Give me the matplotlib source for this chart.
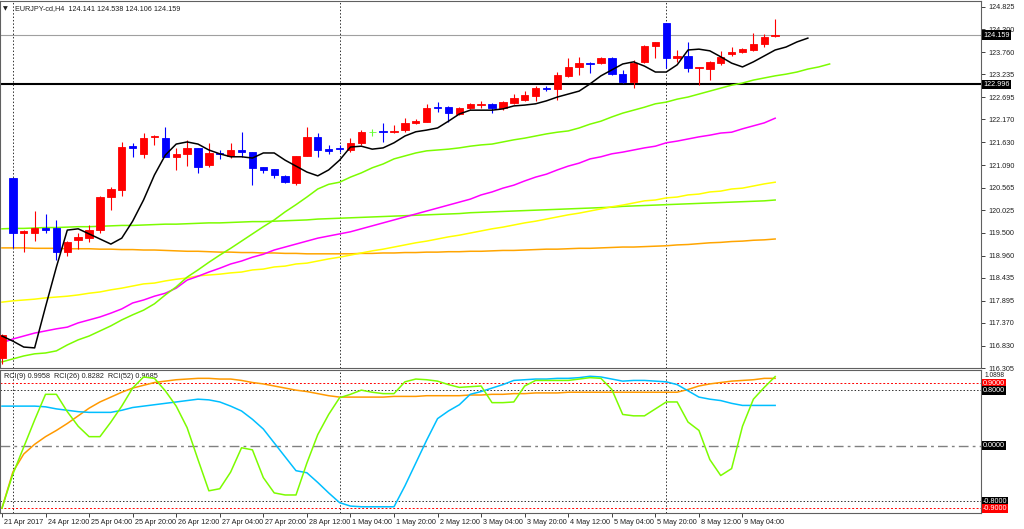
import numpy as np
import matplotlib
matplotlib.use('Agg')
from matplotlib import pyplot as plt
import matplotlib.transforms as mtransforms


# EURJPY H4 candles, 21 Apr 2017 20:00 .. 9 May 2017 16:00
opens = [116.55, 120.79, 119.49, 119.50, 119.62, 119.60, 119.04, 119.33, 119.37, 119.56,
         120.34, 120.50, 121.55, 121.36, 121.75, 121.73, 121.29, 121.36, 121.50, 121.10,
         121.38, 121.30, 121.45, 121.40, 121.04, 120.99, 120.83, 120.67, 121.30, 121.76,
         121.48, 121.50, 121.45, 121.62, 121.88, 121.90, 121.88, 121.92, 122.08, 122.12,
         122.46, 122.46, 122.30, 122.44, 122.52, 122.54, 122.43, 122.56, 122.63, 122.73,
         122.92, 122.88, 123.20, 123.41, 123.50, 123.50, 123.62, 123.24, 123.06, 123.53,
         123.90, 124.45, 123.62, 123.67, 123.39, 123.36, 123.50, 123.72, 123.77, 123.81,
         123.95, 124.141]
highs = [117.10, 120.79, 119.56, 120.00, 119.95, 119.80, 119.30, 119.50, 119.68, 120.36,
         120.58, 121.64, 121.62, 121.85, 121.80, 122.00, 121.50, 121.69, 121.50, 121.62,
         121.46, 121.62, 121.87, 121.40, 121.06, 121.00, 120.85, 121.30, 122.00, 121.85,
         121.57, 121.57, 121.73, 121.92, 121.95, 122.09, 122.04, 122.20, 122.18, 122.54,
         122.58, 122.49, 122.46, 122.55, 122.60, 122.57, 122.60, 122.77, 122.84, 122.96,
         122.96, 123.29, 123.62, 123.64, 123.53, 123.65, 123.65, 123.34, 123.57, 123.93,
         124.00, 124.45, 123.81, 124.00, 123.41, 123.55, 123.79, 123.88, 123.86, 124.20,
         124.19, 124.538]
lows = [116.40, 119.14, 119.05, 119.30, 119.50, 118.85, 118.95, 119.12, 119.28, 119.50,
        120.03, 120.37, 121.28, 121.26, 121.57, 121.28, 120.98, 121.07, 120.90, 121.05,
        121.24, 121.27, 121.28, 120.62, 120.90, 120.80, 120.68, 120.63, 121.30, 121.28,
        121.36, 121.40, 121.40, 121.57, 121.77, 121.64, 121.85, 121.87, 122.06, 122.12,
        122.35, 122.12, 122.28, 122.41, 122.45, 122.33, 122.40, 122.53, 122.60, 122.60,
        122.84, 122.63, 123.17, 123.22, 123.27, 123.48, 123.22, 123.03, 122.92, 123.50,
        123.62, 123.39, 123.53, 123.29, 122.99, 123.10, 123.45, 123.67, 123.75, 123.79,
        123.88, 124.106]
closes = [117.08, 119.49, 119.55, 119.62, 119.57, 119.04, 119.28, 119.40, 119.56, 120.34,
          120.53, 121.52, 121.50, 121.73, 121.78, 121.29, 121.36, 121.50, 121.05, 121.38,
          121.35, 121.45, 121.40, 121.03, 120.97, 120.86, 120.70, 121.30, 121.76, 121.45,
          121.43, 121.47, 121.62, 121.88, 121.88, 121.88, 121.90, 122.08, 122.13, 122.44,
          122.44, 122.32, 122.44, 122.53, 122.54, 122.45, 122.58, 122.68, 122.75, 122.92,
          122.88, 123.22, 123.41, 123.50, 123.49, 123.62, 123.24, 123.06, 123.50, 123.90,
          124.00, 123.62, 123.67, 123.39, 123.41, 123.53, 123.64, 123.77, 123.84, 123.95,
          124.12, 124.159]

# moving averages (black and green ones are drawn shifted forward)
ma_black = [117.06, 116.94, 116.80, 116.78, 117.75, 118.69, 119.56, 119.59, 119.47, 119.35,
            119.23, 119.37, 119.77, 120.27, 120.86, 121.33, 121.59, 121.64, 121.59, 121.45,
            121.36, 121.29, 121.29, 121.26, 121.38, 121.38, 121.21, 121.07, 120.93, 120.84,
            120.98, 121.21, 121.52, 121.54, 121.47, 121.50, 121.62, 121.78, 121.88, 121.92,
            121.97, 122.13, 122.30, 122.39, 122.39, 122.39, 122.42, 122.49, 122.51, 122.54,
            122.61, 122.70, 122.77, 122.84, 123.01, 123.20, 123.34, 123.48, 123.53, 123.43,
            123.29, 123.29, 123.46, 123.81, 123.83, 123.79, 123.65, 123.50, 123.41, 123.53,
            123.67, 123.81, 123.88, 124.00, 124.09]
ma_green = [116.45, 116.52, 116.59, 116.64, 116.66, 116.71, 116.85, 116.97, 117.06, 117.18,
            117.30, 117.44, 117.56, 117.67, 117.82, 118.03, 118.22, 118.45, 118.62, 118.80,
            118.97, 119.13, 119.30, 119.47, 119.64, 119.80, 119.99, 120.16, 120.34, 120.53,
            120.64, 120.69, 120.81, 120.91, 121.03, 121.12, 121.24, 121.31, 121.38, 121.43,
            121.45, 121.47, 121.50, 121.54, 121.57, 121.59, 121.64, 121.69, 121.73, 121.78,
            121.83, 121.87, 121.90, 121.97, 122.06, 122.13, 122.23, 122.32, 122.39, 122.46,
            122.54, 122.58, 122.65, 122.70, 122.77, 122.84, 122.91, 122.98, 123.03, 123.10,
            123.15, 123.20, 123.24, 123.29, 123.36, 123.41, 123.48]
ma_magenta = [116.90, 116.99, 117.06, 117.13, 117.18, 117.23, 117.27, 117.37, 117.44, 117.51,
              117.60, 117.70, 117.84, 117.91, 118.00, 118.07, 118.19, 118.38, 118.47, 118.57,
              118.66, 118.76, 118.83, 118.92, 118.99, 119.09, 119.16, 119.23, 119.30, 119.37,
              119.42, 119.47, 119.52, 119.59, 119.66, 119.73, 119.80, 119.87, 119.94, 120.01,
              120.08, 120.15, 120.22, 120.29, 120.39, 120.46, 120.55, 120.62, 120.72, 120.81,
              120.88, 120.98, 121.07, 121.14, 121.24, 121.29, 121.36, 121.40, 121.45, 121.50,
              121.54, 121.62, 121.66, 121.71, 121.76, 121.80, 121.85, 121.87, 121.95, 122.02,
              122.09, 122.20]
ma_yellow = [117.86, 117.89, 117.91, 117.93, 117.96, 117.98, 118.00, 118.03, 118.07, 118.10,
             118.15, 118.19, 118.24, 118.29, 118.31, 118.36, 118.40, 118.43, 118.48, 118.50,
             118.52, 118.55, 118.57, 118.62, 118.64, 118.69, 118.71, 118.76, 118.78, 118.83,
             118.88, 118.92, 118.97, 119.02, 119.07, 119.11, 119.16, 119.21, 119.26, 119.30,
             119.35, 119.40, 119.44, 119.49, 119.54, 119.59, 119.63, 119.68, 119.73, 119.77,
             119.82, 119.87, 119.92, 119.96, 120.01, 120.06, 120.11, 120.15, 120.20, 120.25,
             120.27, 120.32, 120.34, 120.39, 120.41, 120.46, 120.48, 120.53, 120.55, 120.60,
             120.65, 120.69]
ma_lime = [119.59, 119.60, 119.60, 119.61, 119.62, 119.62, 119.63, 119.64, 119.64, 119.65,
           119.66, 119.67, 119.67, 119.68, 119.69, 119.70, 119.70, 119.71, 119.72, 119.73,
           119.73, 119.74, 119.75, 119.76, 119.76, 119.77, 119.78, 119.79, 119.80, 119.82,
           119.83, 119.84, 119.85, 119.86, 119.87, 119.88, 119.89, 119.90, 119.91, 119.92,
           119.93, 119.94, 119.95, 119.97, 119.98, 119.99, 120.00, 120.01, 120.02, 120.03,
           120.04, 120.05, 120.06, 120.07, 120.08, 120.09, 120.10, 120.12, 120.13, 120.14,
           120.15, 120.16, 120.17, 120.18, 120.19, 120.20, 120.21, 120.22, 120.23, 120.24,
           120.25, 120.27]
ma_orange = [119.14, 119.14, 119.14, 119.13, 119.13, 119.13, 119.12, 119.12, 119.12, 119.11,
             119.11, 119.10, 119.10, 119.09, 119.09, 119.08, 119.07, 119.06, 119.06, 119.05,
             119.04, 119.04, 119.03, 119.03, 119.02, 119.02, 119.01, 119.01, 119.00, 119.00,
             119.00, 119.00, 119.00, 119.01, 119.01, 119.02, 119.02, 119.03, 119.03, 119.04,
             119.04, 119.05, 119.05, 119.06, 119.06, 119.07, 119.08, 119.08, 119.09, 119.10,
             119.11, 119.11, 119.12, 119.13, 119.13, 119.14, 119.15, 119.16, 119.16, 119.17,
             119.18, 119.19, 119.21, 119.22, 119.24, 119.26, 119.27, 119.29, 119.30, 119.32,
             119.33, 119.35]

# RCI oscillators
rci9 = [-0.90, -0.41, -0.02, 0.37, 0.74, 0.74, 0.49, 0.28, 0.13, 0.13,
        0.34, 0.57, 0.83, 0.99, 0.97, 0.79, 0.57, 0.26, -0.20, -0.65,
        -0.62, -0.38, -0.03, -0.06, -0.46, -0.68, -0.71, -0.71, -0.25, 0.16,
        0.45, 0.69, 0.74, 0.80, 0.77, 0.75, 0.75, 0.92, 0.96, 0.95,
        0.93, 0.88, 0.84, 0.85, 0.86, 0.62, 0.62, 0.63, 0.86, 0.94,
        0.94, 0.94, 0.94, 0.96, 0.98, 0.97, 0.81, 0.45, 0.43, 0.43,
        0.53, 0.63, 0.63, 0.34, 0.22, -0.20, -0.43, -0.33, 0.28, 0.67,
        0.84, 0.996]
rci26 = [0.57, 0.57, 0.57, 0.57, 0.56, 0.53, 0.51, 0.49, 0.48, 0.48,
         0.48, 0.51, 0.55, 0.57, 0.59, 0.61, 0.63, 0.65, 0.67, 0.66,
         0.63, 0.57, 0.50, 0.38, 0.24, 0.04, -0.16, -0.36, -0.39, -0.53,
         -0.68, -0.82, -0.87, -0.88, -0.88, -0.88, -0.88, -0.58, -0.25, 0.08,
         0.39, 0.50, 0.59, 0.74, 0.78, 0.83, 0.88, 0.94, 0.95, 0.96,
         0.96, 0.97, 0.97, 0.98, 1.00, 0.99, 0.96, 0.93, 0.94, 0.94,
         0.93, 0.92, 0.88, 0.79, 0.70, 0.67, 0.65, 0.61, 0.58, 0.58,
         0.58, 0.58]
rci52 = [-0.90, -0.38, -0.12, 0.02, 0.13, 0.22, 0.32, 0.43, 0.54, 0.63,
         0.70, 0.77, 0.83, 0.87, 0.91, 0.93, 0.95, 0.96, 0.97, 0.97,
         0.96, 0.96, 0.94, 0.91, 0.89, 0.86, 0.83, 0.80, 0.78, 0.75,
         0.72, 0.70, 0.70, 0.70, 0.70, 0.70, 0.71, 0.71, 0.71, 0.72,
         0.72, 0.72, 0.72, 0.73, 0.73, 0.74, 0.74, 0.75, 0.75, 0.76,
         0.76, 0.76, 0.77, 0.77, 0.77, 0.77, 0.77, 0.77, 0.77, 0.77,
         0.77, 0.77, 0.77, 0.81, 0.86, 0.89, 0.91, 0.93, 0.94, 0.95,
         0.97, 0.97]

price_ticks = [124.825, 124.300, 123.760, 123.235, 122.695, 122.170, 121.630, 121.090,
               120.565, 120.025, 119.500, 118.960, 118.435, 117.895, 117.370, 116.830, 116.305]
time_ticks = [0, 4, 8, 12, 16, 20, 24, 28, 32, 36, 40, 44, 48, 52, 56, 60, 64, 68]
time_labels = ['21 Apr 2017', '24 Apr 12:00', '25 Apr 04:00', '25 Apr 20:00', '26 Apr 12:00',
               '27 Apr 04:00', '27 Apr 20:00', '28 Apr 12:00', '1 May 04:00', '1 May 20:00',
               '2 May 12:00', '3 May 04:00', '3 May 20:00', '4 May 12:00', '5 May 04:00',
               '5 May 20:00', '8 May 12:00', '9 May 04:00']
week_starts = [1, 31, 61]
bid = 124.159
hline_level = 122.996

FS = 5.2
plt.rcParams['font.family'] = ['Liberation Sans', 'DejaVu Sans']

fig = plt.figure(figsize=(10.24, 5.29), dpi=100)
ax = fig.add_axes([0.0, 0.3043, 0.958, 0.6938])
ax2 = fig.add_axes([0.0, 0.0302, 0.958, 0.2703])

# --- price panel ---
o = np.array(opens); h = np.array(highs); l = np.array(lows); c = np.array(closes)
idx = np.arange(len(o))
cols = np.where(c > o, '#FF0000', np.where(c < o, '#0000FF', '#66FF33'))
ax.vlines(idx, l, h, colors=cols, lw=0.8, zorder=3)
ax.bar(idx, np.abs(c - o), bottom=np.minimum(o, c), width=0.68, color=cols,
       edgecolor=cols, linewidth=0.6, zorder=4)

ax.plot(np.arange(len(ma_lime)), ma_lime, color='#7CFC00', lw=1.1, zorder=2)
ax.plot(np.arange(len(ma_orange)), ma_orange, color='#FFA500', lw=1.1, zorder=2)
ax.plot(np.arange(len(ma_yellow)), ma_yellow, color='#FFFF00', lw=1.1, zorder=2)
ax.plot(np.arange(len(ma_magenta)), ma_magenta, color='#FF00FF', lw=1.1, zorder=2)
ax.plot(np.arange(len(ma_green)), ma_green, color='#7CFC00', lw=1.1, zorder=2)
ax.plot(np.arange(len(ma_black)), ma_black, color='black', lw=1.1, zorder=5)

ax.axhline(hline_level, color='black', lw=1.5, zorder=1)
ax.axhline(bid, color='#A0A0A0', lw=0.8, zorder=1)
for w in week_starts:
    ax.axvline(w, color='#303030', lw=0.7, ls=(0, (1.5, 2)), zorder=1)

ax.set_xlim(-0.18, 89.9)
ax.set_ylim(116.305, 124.966)
ax.set_xticks([])
ax.yaxis.tick_right()
ax.set_yticks(price_ticks)
ax.set_yticklabels([f'{v:.3f}' for v in price_ticks])
ax.tick_params(axis='y', direction='out', length=3, width=0.6, labelsize=FS, pad=2,
               colors='#202020')
for s in ax.spines.values():
    s.set_color('#606060')
    s.set_linewidth(0.8)

trans = mtransforms.blended_transform_factory(ax.transAxes, ax.transData)
for val in [bid, hline_level]:
    ax.text(1.002, val, f'{val:.3f}', transform=trans, ha='left', va='center',
            color='white', fontsize=FS, zorder=10,
            bbox=dict(boxstyle='square,pad=0.2', fc='black', ec='none'))

fig.text(0.003, 0.983, '\u25bc', fontsize=4.5, color='#202020', va='center',
         family='DejaVu Sans')
fig.text(0.015, 0.983, 'EURJPY-cd,H4  124.141 124.538 124.106 124.159',
         fontsize=FS, color='#202020', va='center')

# --- RCI panel ---
x_rci = np.arange(len(rci9))
ax2.plot(x_rci, rci52, color='#FF9900', lw=1.1, zorder=3)
ax2.plot(x_rci, rci26, color='#00BFFF', lw=1.1, zorder=3)
ax2.plot(x_rci, rci9, color='#7CFC00', lw=1.1, zorder=4)

ax2.axhline(0.9, color='#FF0000', lw=0.7, ls=(0, (2, 2)))
ax2.axhline(-0.9, color='#FF0000', lw=0.7, ls=(0, (2, 2)))
ax2.axhline(0.8, color='#303030', lw=0.7, ls=(0, (1.5, 2)))
ax2.axhline(-0.8, color='#303030', lw=0.7, ls=(0, (1.5, 2)))
ax2.axhline(0.0, color='#808080', lw=1.0, ls=(0, (7, 3, 2, 3)))
for w in week_starts:
    ax2.axvline(w, color='#303030', lw=0.7, ls=(0, (1.5, 2)), zorder=1)

ax2.set_xlim(-0.18, 89.9)
ax2.set_ylim(-0.97, 1.0898)
ax2.set_yticks([])
ax2.set_xticks(time_ticks)
ax2.set_xticklabels(time_labels, ha='left')
ax2.tick_params(axis='x', direction='out', length=3, width=0.6, labelsize=FS, pad=1,
                colors='#202020')
offset = mtransforms.ScaledTranslation(2 / 100, 0, fig.dpi_scale_trans)
for lbl in ax2.get_xticklabels():
    lbl.set_transform(lbl.get_transform() + offset)
for s in ax2.spines.values():
    s.set_color('#606060')
    s.set_linewidth(0.8)

trans2 = mtransforms.blended_transform_factory(ax2.transAxes, ax2.transData)
ax2.text(1.004, 1.01, '1.0898', transform=trans2, ha='left', va='center',
         color='#202020', fontsize=FS - 0.4)
for val, bg in [(0.9, '#FF0000'), (0.8, 'black'), (0.0, 'black'),
                (-0.8, 'black'), (-0.9, '#FF0000')]:
    ax2.text(1.002, val, f'{val:.4f}', transform=trans2, ha='left', va='center',
             color='white', fontsize=FS, zorder=10,
             bbox=dict(boxstyle='square,pad=0.12', fc=bg, ec='none'))
ax2.text(0.004, 0.955, 'RCI(9) 0.9958  RCI(26) 0.8282  RCI(52) 0.9685',
         transform=ax2.transAxes, fontsize=FS, color='#202020', va='center')

fig.savefig('out.png', dpi=100)
